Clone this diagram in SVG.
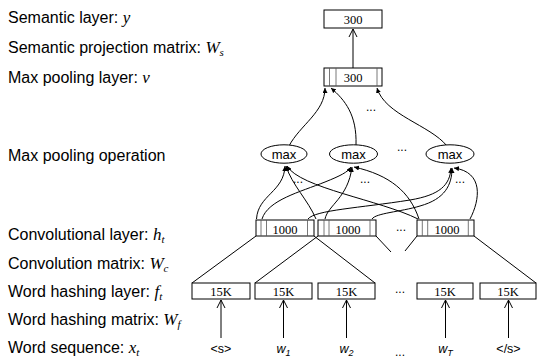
<svg xmlns="http://www.w3.org/2000/svg" width="537" height="363" viewBox="0 0 537 363">
<style>
.lbl{font-family:"Liberation Sans",Arial,sans-serif;font-size:16px;fill:#000}
.m{font-family:"Liberation Serif","Times New Roman",serif;font-style:italic;font-size:17px}
.ms{font-family:"Liberation Serif","Times New Roman",serif;font-style:italic;font-size:11px}
.num{font-family:"Liberation Serif","Times New Roman",serif;font-size:12.5px;text-anchor:middle;fill:#000}
.mx{font-family:"Liberation Sans",Arial,sans-serif;font-size:13px;text-anchor:middle;fill:#000}
.wd{font-family:"Liberation Sans",Arial,sans-serif;font-size:12.5px;text-anchor:middle;fill:#000}
.wi{font-style:italic}
.dots{font-family:"Liberation Sans",Arial,sans-serif;font-size:12px;text-anchor:middle;fill:#000}
.box{fill:#fff;stroke:#000;stroke-width:1}
.in{stroke:#555;stroke-width:0.8}
.ln{fill:none;stroke:#000;stroke-width:1}
.fa{fill:none;stroke:#000;stroke-width:1;marker-end:url(#fill)}
.oa{fill:none;stroke:#000;stroke-width:1;marker-end:url(#open)}
</style>
<defs>
<marker id="fill" markerWidth="6" markerHeight="5" refX="5" refY="2.5" orient="auto" markerUnits="userSpaceOnUse">
<path d="M0,0 L5,2.5 L0,5 z" fill="#000"/>
</marker>
<marker id="open" markerWidth="9" markerHeight="10" refX="8" refY="5" orient="auto" markerUnits="userSpaceOnUse">
<path d="M0,1 L8,5 L0,9" fill="none" stroke="#000" stroke-width="1"/>
</marker>
</defs>

<g id="labels">
<text class="lbl" x="8" y="23">Semantic layer: <tspan class="m">y</tspan></text>
<text class="lbl" x="8" y="53">Semantic projection matrix: <tspan class="m">W</tspan><tspan class="ms" dy="3">s</tspan></text>
<text class="lbl" x="8" y="82.5">Max pooling layer: <tspan class="m">v</tspan></text>
<text class="lbl" x="8" y="161">Max pooling operation</text>
<text class="lbl" x="8" y="240">Convolutional layer: <tspan class="m">h</tspan><tspan class="ms" dy="3">t</tspan></text>
<text class="lbl" x="8" y="269">Convolution matrix: <tspan class="m">W</tspan><tspan class="ms" dy="3">c</tspan></text>
<text class="lbl" x="8" y="297">Word hashing layer: <tspan class="m">f</tspan><tspan class="ms" dy="3">t</tspan></text>
<text class="lbl" x="8" y="325">Word hashing matrix: <tspan class="m">W</tspan><tspan class="ms" dy="3">f</tspan></text>
<text class="lbl" x="8" y="353">Word sequence: <tspan class="m">x</tspan><tspan class="ms" dy="3">t</tspan></text>
</g>

<g id="connectors">
<!-- semantic projection -->
<path class="oa" d="M353,68 L353,29"/>
<!-- max ops to max pooling layer -->
<path class="fa" d="M289,146 C300,125 325,112 325,88"/>
<path class="fa" d="M356,145 C357,115 345,100 331,88"/>
<path class="fa" d="M447,146 C430,125 385,115 377,88"/>
<!-- conv to max1 -->
<path class="fa" d="M256.5,219 C258,195 284,192 285,166"/>
<path class="fa" d="M316,219 C308,200 292,185 286,166"/>
<path class="fa" d="M418,219 C380,200 300,188 287,166"/>
<!-- conv to max2 -->
<path class="fa" d="M262,219 C268,200 300,192 325,182 C340,176 348,172 351,167"/>
<path class="fa" d="M325,219 C328,205 348,198 352,167"/>
<path class="fa" d="M419,219 C410,192 390,175 354,167"/>
<!-- conv to max3 -->
<path class="fa" d="M308,219 C315,210 360,208 410,200 C440,195 450,185 451,168"/>
<path class="fa" d="M372,219 C376,213 400,212 420,206 C445,199 452,185 452,168"/>
<path class="fa" d="M470,219 C480,200 484,172 454,168"/>
<!-- convolution matrix -->
<path class="ln" d="M256,236 L192,283"/>
<path class="ln" d="M314,236 L375,283"/>
<path class="ln" d="M318,236 L255,283"/>
<path class="ln" d="M376,236 L391,252"/>
<path class="ln" d="M417,236 L405,251"/>
<path class="ln" d="M474,236 L536,283"/>
<!-- word hashing -->
<path class="oa" d="M221,338 L221,300"/>
<path class="oa" d="M283.5,338 L283.5,300"/>
<path class="oa" d="M346.5,338 L346.5,300"/>
<path class="oa" d="M445.5,338 L445.5,300"/>
<path class="oa" d="M508.5,338 L508.5,300"/>
</g>

<g id="semantic">
<rect class="box" x="324" y="10" width="58" height="18"/>
<text class="num" x="353" y="23.5">300</text>
</g>

<g id="maxpool">
<rect class="box" x="324" y="68" width="58" height="18"/>
<line class="in" x1="329.5" y1="68" x2="329.5" y2="86"/>
<line class="in" x1="336" y1="68" x2="336" y2="86"/>
<line class="in" x1="377" y1="68" x2="377" y2="86"/>
<text class="num" x="353" y="81.5">300</text>
</g>

<g id="max1">
<ellipse class="box" cx="284" cy="154" rx="23" ry="9.2"/>
<text class="mx" x="284" y="158.5">max</text>
</g>
<g id="max2">
<ellipse class="box" cx="353.5" cy="154" rx="24" ry="9.2"/>
<text class="mx" x="353.5" y="158.5">max</text>
</g>
<g id="max3">
<ellipse class="box" cx="450" cy="154" rx="24" ry="9.2"/>
<text class="mx" x="450" y="158.5">max</text>
</g>

<g id="conv1">
<rect class="box" x="256" y="220" width="58" height="16"/>
<line class="in" x1="261" y1="220" x2="261" y2="236"/>
<line class="in" x1="266.5" y1="220" x2="266.5" y2="236"/>
<line class="in" x1="307.5" y1="220" x2="307.5" y2="236"/>
<text class="num" x="285" y="233.5">1000</text>
</g>
<g id="conv2">
<rect class="box" x="318" y="220" width="58" height="16"/>
<line class="in" x1="324" y1="220" x2="324" y2="236"/>
<line class="in" x1="329" y1="220" x2="329" y2="236"/>
<line class="in" x1="370" y1="220" x2="370" y2="236"/>
<text class="num" x="348" y="233.5">1000</text>
</g>
<g id="conv3">
<rect class="box" x="417" y="220" width="57" height="16"/>
<line class="in" x1="422.3" y1="220" x2="422.3" y2="236"/>
<line class="in" x1="427.7" y1="220" x2="427.7" y2="236"/>
<line class="in" x1="468.3" y1="220" x2="468.3" y2="236"/>
<text class="num" x="447" y="233.5">1000</text>
</g>

<g id="hash1"><rect class="box" x="192" y="283" width="58" height="16"/><text class="num" x="221" y="295.5">15K</text></g>
<g id="hash2"><rect class="box" x="255" y="283" width="57" height="16"/><text class="num" x="283.5" y="295.5">15K</text></g>
<g id="hash3"><rect class="box" x="318" y="283" width="57" height="16"/><text class="num" x="346.5" y="295.5">15K</text></g>
<g id="hash4"><rect class="box" x="417" y="283" width="56" height="16"/><text class="num" x="445" y="295.5">15K</text></g>
<g id="hash5"><rect class="box" x="480" y="283" width="56" height="16"/><text class="num" x="508" y="295.5">15K</text></g>

<g id="words">
<text class="wd" x="221" y="353">&lt;s&gt;</text>
<text class="wd" x="283.5" y="353"><tspan class="wi">w</tspan><tspan class="wi" font-size="9" dy="3">1</tspan></text>
<text class="wd" x="346.5" y="353"><tspan class="wi">w</tspan><tspan class="wi" font-size="9" dy="3">2</tspan></text>
<text class="wd" x="445.5" y="353"><tspan class="wi">w</tspan><tspan class="wi" font-size="9" dy="3">T</tspan></text>
<text class="wd" x="508.5" y="353">&lt;/s&gt;</text>
</g>

<g id="ellipses">
<text class="dots" x="371" y="111">...</text>
<text class="dots" x="402" y="151">...</text>
<text class="dots" x="298" y="183">...</text>
<text class="dots" x="365" y="183">...</text>
<text class="dots" x="460" y="183">...</text>
<text class="dots" x="401" y="231">...</text>
<text class="dots" x="400" y="293">...</text>
<text class="dots" x="400" y="356">...</text>
</g>
</svg>
